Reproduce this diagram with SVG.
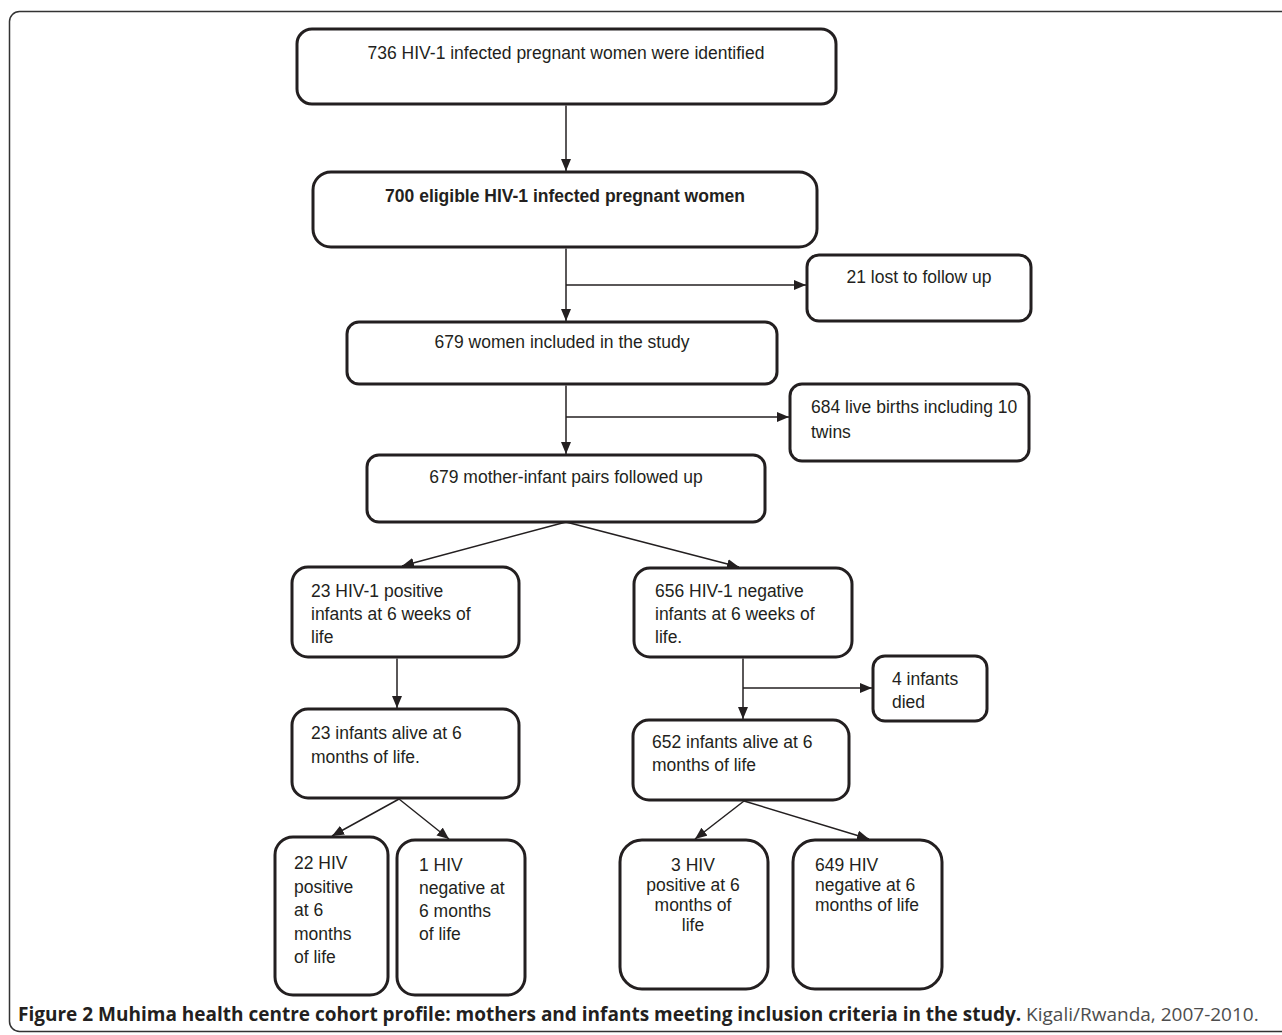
<svg xmlns="http://www.w3.org/2000/svg" width="1282" height="1035" viewBox="0 0 1282 1035">
<defs>
<style>
.frame{fill:none;stroke:#333;stroke-width:1.5}
.box{fill:#fff;stroke:#231f20;stroke-width:3}
.t{font-family:"Liberation Sans",Arial,sans-serif;font-size:17.5px;fill:#231f20}
.c{text-anchor:middle}
.b{font-weight:bold}
.conn line{stroke:#231f20;stroke-width:1.5}
.cap{font-family:"Open Sans","Noto Sans",sans-serif;font-size:19px}
</style>
<marker id="ah" markerUnits="userSpaceOnUse" markerWidth="14" markerHeight="12" refX="12" refY="5" orient="auto">
<path d="M0,0 L12,5 L0,10 Z" fill="#231f20"/>
</marker>
</defs>
<rect class="frame" x="9.5" y="11.5" width="1290" height="1020" rx="10"/>

<g id="n1"><rect class="box" x="297" y="29" width="539" height="75" rx="15"/>
<text class="t c" x="566" y="59">736 HIV-1 infected pregnant women were identified</text></g>

<g id="n2"><rect class="box" x="313" y="172" width="504" height="75" rx="18"/>
<text class="t c b" x="565" y="202">700 eligible HIV-1 infected pregnant women</text></g>

<g id="n3"><rect class="box" x="807" y="255" width="224" height="66" rx="12"/>
<text class="t c" x="919" y="283">21 lost to follow up</text></g>

<g id="n4"><rect class="box" x="347" y="322" width="430" height="62" rx="12"/>
<text class="t c" x="562" y="348">679 women included in the study</text></g>

<g id="n5"><rect class="box" x="790" y="384" width="239" height="77" rx="12"/>
<text class="t" x="811" y="413">684 live births including 10</text>
<text class="t" x="811" y="438">twins</text></g>

<g id="n6"><rect class="box" x="367" y="455" width="398" height="67" rx="12"/>
<text class="t c" x="566" y="483">679 mother-infant pairs followed up</text></g>

<g id="n7"><rect class="box" x="292" y="567" width="227" height="90" rx="16"/>
<text class="t" x="311" y="597">23 HIV-1 positive</text>
<text class="t" x="311" y="620">infants at 6 weeks of</text>
<text class="t" x="311" y="643">life</text></g>

<g id="n8"><rect class="box" x="634" y="568" width="218" height="89" rx="16"/>
<text class="t" x="655" y="597">656 HIV-1 negative</text>
<text class="t" x="655" y="620">infants at 6 weeks of</text>
<text class="t" x="655" y="643">life.</text></g>

<g id="n9"><rect class="box" x="292" y="709" width="227" height="89" rx="16"/>
<text class="t" x="311" y="739">23 infants alive at 6</text>
<text class="t" x="311" y="763">months of life.</text></g>

<g id="n10"><rect class="box" x="873" y="656" width="114" height="65" rx="12"/>
<text class="t" x="892" y="685">4 infants</text>
<text class="t" x="892" y="708">died</text></g>

<g id="n11"><rect class="box" x="633" y="720" width="216" height="80" rx="16"/>
<text class="t" x="652" y="748">652 infants alive at 6</text>
<text class="t" x="652" y="771">months of life</text></g>

<g id="n12"><rect class="box" x="275" y="837" width="113" height="158" rx="18"/>
<text class="t" x="294" y="869">22 HIV</text>
<text class="t" x="294" y="893">positive</text>
<text class="t" x="294" y="916">at 6</text>
<text class="t" x="294" y="940">months</text>
<text class="t" x="294" y="963">of life</text></g>

<g id="n13"><rect class="box" x="397" y="840" width="128" height="155" rx="18"/>
<text class="t" x="419" y="871">1 HIV</text>
<text class="t" x="419" y="894">negative at</text>
<text class="t" x="419" y="917">6 months</text>
<text class="t" x="419" y="940">of life</text></g>

<g id="n14"><rect class="box" x="620" y="840" width="148" height="149" rx="22"/>
<text class="t c" x="693" y="871">3 HIV</text>
<text class="t c" x="693" y="891">positive at 6</text>
<text class="t c" x="693" y="911">months of</text>
<text class="t c" x="693" y="931">life</text></g>

<g id="n15"><rect class="box" x="793" y="840" width="149" height="149" rx="22"/>
<text class="t" x="815" y="871">649 HIV</text>
<text class="t" x="815" y="891">negative at 6</text>
<text class="t" x="815" y="911">months of life</text></g>

<g class="conn" id="connectors">
<line x1="566" y1="105.5" x2="566" y2="171" marker-end="url(#ah)"/>
<line x1="566" y1="248.5" x2="566" y2="321" marker-end="url(#ah)"/>
<line x1="566" y1="285" x2="806" y2="285" marker-end="url(#ah)"/>
<line x1="566" y1="385.5" x2="566" y2="454" marker-end="url(#ah)"/>
<line x1="566" y1="417" x2="789" y2="417" marker-end="url(#ah)"/>
<line x1="566" y1="522" x2="402" y2="566" marker-end="url(#ah)"/>
<line x1="566" y1="522" x2="739" y2="567" marker-end="url(#ah)"/>
<line x1="397" y1="658.5" x2="397" y2="708" marker-end="url(#ah)"/>
<line x1="743" y1="658.5" x2="743" y2="719" marker-end="url(#ah)"/>
<line x1="743" y1="688" x2="872" y2="688" marker-end="url(#ah)"/>
<line x1="399" y1="799" x2="332" y2="836" marker-end="url(#ah)"/>
<line x1="399" y1="799" x2="449" y2="839" marker-end="url(#ah)"/>
<line x1="744" y1="801" x2="695" y2="839" marker-end="url(#ah)"/>
<line x1="744" y1="801" x2="869" y2="839" marker-end="url(#ah)"/>
</g>

<text class="cap" x="18" y="1021"><tspan font-weight="700" fill="#231f20">Figure 2 Muhima health centre cohort profile: mothers and infants meeting inclusion criteria in the study.</tspan><tspan fill="#4d4d4d"> Kigali/Rwanda, 2007-2010.</tspan></text>
</svg>
